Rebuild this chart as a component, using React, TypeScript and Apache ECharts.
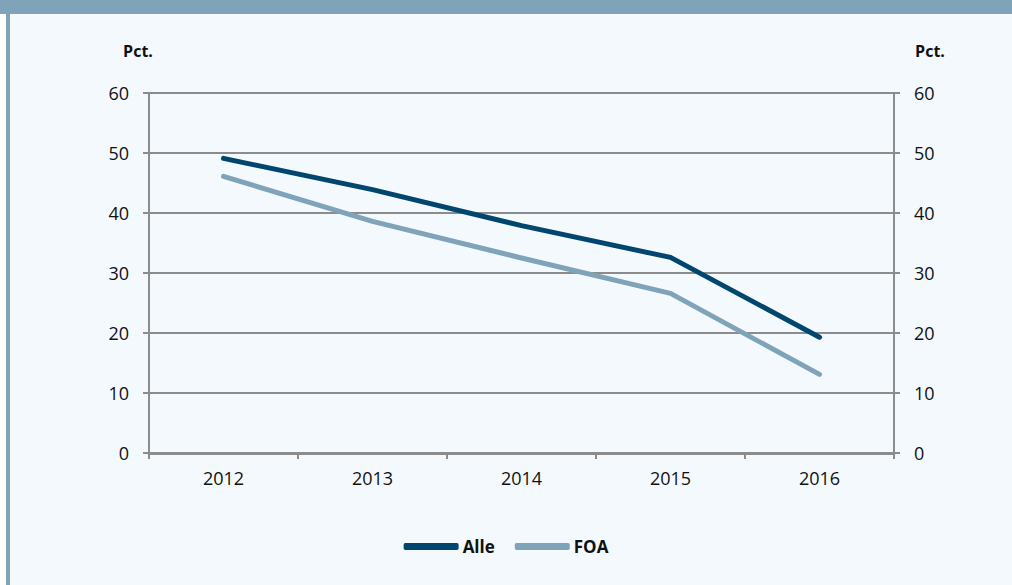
import React, { useEffect, useRef } from "react";
import * as echarts from "echarts";

const years = ["2012", "2013", "2014", "2015", "2016"];
const alle = [49.1, 43.9, 37.9, 32.6, 19.3];
const foa = [46.1, 38.6, 32.5, 26.6, 13.1];
const yTicks = { min: 0, max: 60, interval: 10 };

const FONT = "'Open Sans', 'Noto Sans', sans-serif";
const GRID_COLOR = "#8c8c8c";

export default function App() {
  const ref = useRef<HTMLDivElement>(null);
  useEffect(() => {
    document.body.style.margin = "0";
    const chart = echarts.init(ref.current!, null, { renderer: "svg" });
    const yAxisBase = (pos: "left" | "right") => ({
      type: "value" as const,
      position: pos,
      min: yTicks.min,
      max: yTicks.max,
      interval: yTicks.interval,
      name: "Pct.",
      nameLocation: "end" as const,
      nameGap: 34,
      nameTextStyle: {
        fontFamily: FONT,
        fontWeight: "bold" as const,
        fontSize: 16,
        color: "#111",
        align: "center" as const,
        padding: pos === "left" ? [0, 22, 0, 0] : [0, 0, 0, 72],
      },
      axisLine: { show: true, lineStyle: { color: GRID_COLOR, width: 2 } },
      axisTick: { show: true, length: 6, lineStyle: { color: GRID_COLOR, width: 2 } },
      axisLabel: {
        fontFamily: FONT,
        fontSize: 18,
        color: "#111",
        margin: 20,
      },
      splitLine: { show: pos === "left", lineStyle: { color: GRID_COLOR, width: 2 } },
    });
    chart.setOption({
      animation: false,
      backgroundColor: "#f4f9fd",
      graphic: [
        { type: "rect", shape: { x: 0, y: 0, width: 6, height: 585 }, style: { fill: "#ffffff" }, z: -10 },
        { type: "rect", shape: { x: 6, y: 0, width: 4, height: 585 }, style: { fill: "#7fa3b9" }, z: -10 },
        { type: "rect", shape: { x: 0, y: 0, width: 1012, height: 14 }, style: { fill: "#7fa3b9" }, z: -10 },
      ],
      grid: { left: 149, right: 118, top: 93, bottom: 132, containLabel: false },
      legend: {
        top: 533,
        left: "center",
        icon: "roundRect",
        itemWidth: 55,
        itemHeight: 7,
        itemGap: 20,
        textStyle: { fontFamily: FONT, fontWeight: "bold", fontSize: 17, color: "#111", padding: [0, 0, 0, -1] },
        data: ["Alle", "FOA"],
      },
      xAxis: {
        type: "category",
        data: years,
        boundaryGap: true,
        axisLine: { lineStyle: { color: GRID_COLOR, width: 3 } },
        axisTick: { show: true, length: 6, alignWithLabel: false, lineStyle: { color: GRID_COLOR, width: 2 } },
        axisLabel: { fontFamily: FONT, fontSize: 18, color: "#111", margin: 16 },
      },
      yAxis: [yAxisBase("left"), yAxisBase("right")],
      series: [
        {
          name: "Alle",
          type: "line",
          data: alle,
          symbol: "none",
          lineStyle: { color: "#00466e", width: 5, cap: "round", join: "round" },
          itemStyle: { color: "#00466e" },
        },
        {
          name: "FOA",
          type: "line",
          data: foa,
          symbol: "none",
          lineStyle: { color: "#7fa3b9", width: 5, cap: "round", join: "round" },
          itemStyle: { color: "#7fa3b9" },
        },
      ],
    });
    return () => chart.dispose();
  }, []);
  return <div ref={ref} style={{ width: 1012, height: 585 }} />;
}
